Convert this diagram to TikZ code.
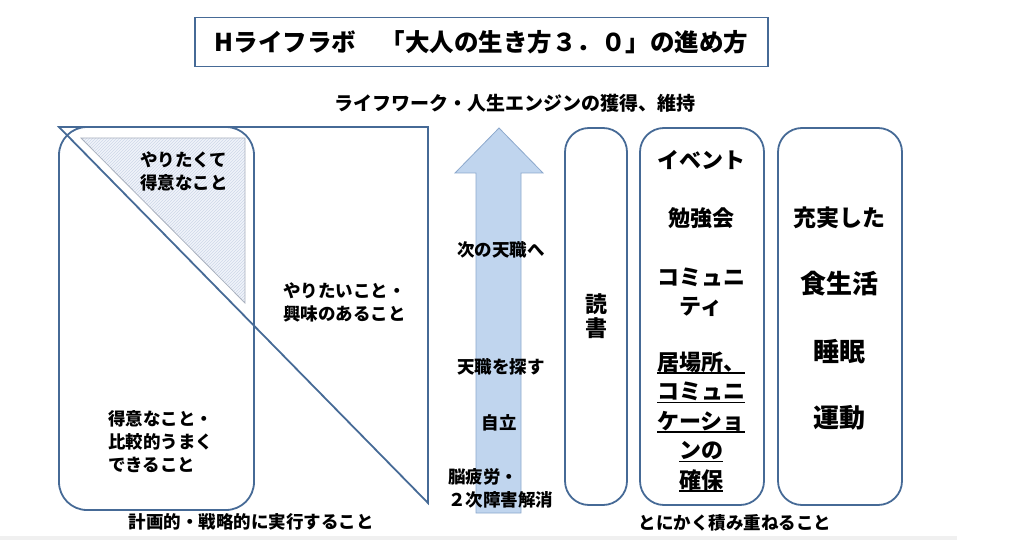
\documentclass[tikz,border=0pt]{standalone}
\usepackage{fontspec}
\setmainfont{Noto Sans CJK JP}
\usetikzlibrary{positioning, patterns}

\definecolor{edge}{RGB}{70,106,150}
\definecolor{arrowfill}{RGB}{192,213,238}
\definecolor{arrowline}{RGB}{140,168,204}
\definecolor{hatchbg}{RGB}{240,244,250}
\definecolor{hatchline}{RGB}{206,215,232}
\definecolor{hatchedge}{RGB}{170,177,190}

\newsavebox\ulbox
\newcommand\ulline[1]{\sbox\ulbox{#1}\rlap{\rule[-3.5pt]{\wd\ulbox}{1.3pt}}\usebox\ulbox}

\begin{document}
\begin{tikzpicture}[
  x=1pt, y=-1pt,
  font=\bfseries,
  frame/.style={draw=edge, line width=1.8pt, rounded corners=24pt, outer sep=0pt, minimum height=377pt},
  note/.style={font=\fontsize{17.5}{23}\selectfont\bfseries, align=left, inner sep=0pt},
  item/.style={font=\fontsize{22}{29.5}\selectfont\bfseries, align=center, inner sep=0pt},
  bigitem/.style={font=\fontsize{26}{30}\selectfont\bfseries, inner sep=0pt}
]
\useasboundingbox (0,0) rectangle (1024,540);
\fill[gray!12] (0,536) rectangle (957,540);

% title
\node[draw=edge, line width=1.6pt, minimum width=573pt, minimum height=49pt,
  font=\fontsize{24.5}{28}\selectfont\bfseries] (title) at (481.5,42) {Hライフラボ　「大人の生き方３．０」の進め方};
\node[font=\fontsize{19}{22}\selectfont\bfseries] (goal) at (515,103) {ライフワーク・人生エンジンの獲得、維持};

% left part: triangle and rounded box
\fill[hatchbg] (81,138) -- (245,138) -- (245,303) -- cycle;
\fill[pattern=north east lines, pattern color=hatchline] (81,138) -- (245,138) -- (245,303) -- cycle;
\draw[hatchedge, line width=0.8pt] (81,138) -- (245,138) -- (245,303) -- cycle;
\draw[edge, line width=1.8pt] (59,127) -- (428,127) -- (428,503) -- cycle;
\node[frame, minimum width=195pt, minimum height=383pt, rounded corners=28pt] (skill) at (156.5,318.5) {};

\node[note] (both) at (184,171) {やりたくて\\得意なこと};
\node[note, anchor=west] (want) at (283,302.5) {やりたいこと・\\興味のあること};
\node[note, anchor=west] (good) at (108,442) {得意なこと・\\比較的うまく\\できること};
\node[note] (plan) at (251,522) {計画的・戦略的に実行すること};

% arrow
\draw[fill=arrowfill, draw=arrowline, line width=0.8pt]
  (476,513) -- (476,173) -- (455,173) -- (499,128) -- (543,173) -- (521,173) -- (521,513) -- cycle;
\node[note] (next) at (501,250) {次の天職へ};
\node[note] (search) at (501,367) {天職を探す};
\node[note] (indep) at (499,423) {自立};
\node[note, anchor=west] (relief) at (448,488.5) {脳疲労・\\２次障害解消};

% right part: three columns
\node[frame, minimum width=62pt] (read) at (596,316.5) {};
\node[frame, minimum width=124pt, right=13pt of read] (comm) {};
\node[frame, minimum width=124pt, right=14pt of comm] (life) {};

\node[item, font=\fontsize{22}{24}\selectfont\bfseries] (book) at (read.center) {読\\書};

\node[item] (event) at (701,160) {イベント};
\node[item] (study) at (701,218) {勉強会};
\node[item] (community) at (701,292.5) {コミュニ\\ティ};
\node[item] (place) at (701,421.5) {\ulline{居場所、}\\\ulline{コミュニ}\\\ulline{ケーショ}\\\ulline{ンの}\\\ulline{確保}};

\node[item, font=\fontsize{23}{26}\selectfont\bfseries] (meal1) at (839,218) {充実した};
\node[bigitem] (meal2) at (839,284) {食生活};
\node[bigitem] (sleep) at (839,352) {睡眠};
\node[bigitem] (sport) at (839,418) {運動};

\node[note] (keep) at (735,523) {とにかく積み重ねること};
\end{tikzpicture}
\end{document}
